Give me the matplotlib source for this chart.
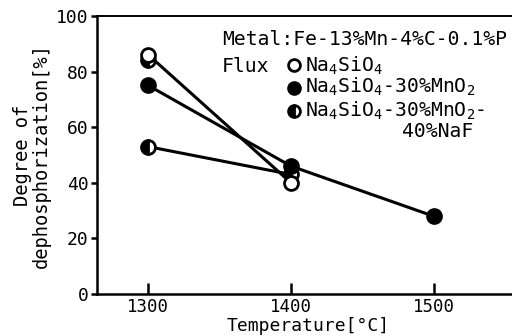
import matplotlib
matplotlib.use("Agg")
import matplotlib.pyplot as plt

plt.rcParams['font.family'] = ['DejaVu Sans Mono']
plt.rcParams['mathtext.fontset'] = 'custom'
plt.rcParams['mathtext.rm'] = 'DejaVu Sans Mono'
plt.rcParams['mathtext.it'] = 'DejaVu Sans Mono'

# -----------------------
# Data
# -----------------------
temp_open = [1300, 1400]
deg_open = [86, 40]            # Na4SiO4

temp_filled = [1300, 1400, 1500]
deg_filled = [75, 46, 28]      # Na4SiO4-30%MnO2

temp_half_line = [1300, 1400]
deg_half_line = [53, 43]       # Na4SiO4-30%MnO2-40%NaF
temp_half_extra = [1300]
deg_half_extra = [84]

x_ticks = [1300, 1400, 1500]
y_ticks = [0, 20, 40, 60, 80, 100]

# -----------------------
# Plot
# -----------------------
fig = plt.figure(figsize=(5.12, 3.36), dpi=100)
ax = fig.add_axes([97 / 512, 1 - 294 / 336, 415 / 512, 278 / 336])

lw = 2.2
ms = 10
mew = 2.0

ax.plot(temp_half_line, deg_half_line, color='black', lw=lw, zorder=2)
ax.plot(temp_open, deg_open, color='black', lw=lw, zorder=2)
ax.plot(temp_filled, deg_filled, color='black', lw=lw, zorder=2)

ax.plot(temp_half_line + temp_half_extra, deg_half_line + deg_half_extra, 'o', ls='none',
        ms=ms, mew=mew, mec='black', mfc='black', fillstyle='left',
        markerfacecoloralt='white', zorder=3)
ax.plot(temp_filled, deg_filled, 'o', ls='none', ms=ms, mew=mew,
        mec='black', mfc='black', zorder=4)
ax.plot(temp_open, deg_open, 'o', ls='none', ms=ms, mew=mew,
        mec='black', mfc='white', zorder=5)

ax.set_xlim(1264, 1555)
ax.set_ylim(0, 100)
ax.set_xticks(x_ticks)
ax.set_yticks(y_ticks)

ax.spines['right'].set_visible(False)
for s in ['left', 'top', 'bottom']:
    ax.spines[s].set_linewidth(1.8)
ax.spines['top'].set_linewidth(1.4)

ax.tick_params(axis='y', direction='out', length=4, width=1.8, labelsize=13, pad=2)
ax.tick_params(axis='x', direction='in', length=8, width=1.8, labelsize=12.5, pad=3)

ax.set_ylabel('Degree of\ndephosphorization[%]', fontsize=13.5, labelpad=4,
              linespacing=0.95)
fig.text(308 / 512, 1 / 336, 'Temperature[°C]', fontsize=13, ha='center', va='bottom')

# legend block
tr = ax.transAxes
fs = 14.2
ax.text(0.301, 0.896, 'Metal:Fe-13%Mn-4%C-0.1%P', transform=tr, fontsize=fs,
        va='baseline', ha='left')
ax.text(0.301, 0.799, 'Flux', transform=tr, fontsize=fs, va='baseline', ha='left')

ax.plot([0.475], [0.824], 'o', transform=tr, ms=8.5, mew=2.0, mec='black',
        mfc='white', clip_on=False)
ax.plot([0.475], [0.741], 'o', transform=tr, ms=8.5, mew=2.0, mec='black',
        mfc='black', clip_on=False)
ax.plot([0.475], [0.658], 'o', transform=tr, ms=8.5, mew=2.0, mec='black',
        mfc='black', fillstyle='left', markerfacecoloralt='white', clip_on=False)

ax.text(0.502, 0.799, r'Na$_4$SiO$_4$', transform=tr, fontsize=fs,
        va='baseline', ha='left')
ax.text(0.502, 0.723, r'Na$_4$SiO$_4$-30%MnO$_2$', transform=tr, fontsize=fs,
        va='baseline', ha='left')
ax.text(0.502, 0.637, r'Na$_4$SiO$_4$-30%MnO$_2$-', transform=tr, fontsize=fs,
        va='baseline', ha='left')
ax.text(0.735, 0.565, '40%NaF', transform=tr, fontsize=fs,
        va='baseline', ha='left')

fig.savefig('out.png', dpi=100)
